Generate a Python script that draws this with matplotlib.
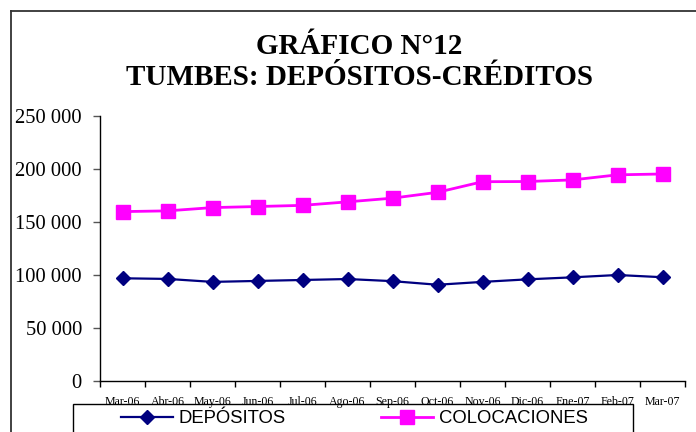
import matplotlib
matplotlib.use("Agg")
import matplotlib.pyplot as plt
from matplotlib.lines import Line2D
from matplotlib.patches import Rectangle
from matplotlib.ticker import FuncFormatter, FixedLocator

# Data
meses = ['Mar-06', 'Abr-06', 'May-06', 'Jun-06', 'Jul-06', 'Ago-06', 'Sep-06',
         'Oct-06', 'Nov-06', 'Dic-06', 'Ene-07', 'Feb-07', 'Mar-07']
depositos = [96900, 96300, 93500, 94400, 95300, 96200, 94200,
             90800, 93500, 95900, 97800, 100000, 97900]
colocaciones = [159800, 160500, 163600, 164600, 165700, 169000, 172500,
                178000, 188000, 188200, 189700, 194500, 195300]

W, H = 696, 432
fig = plt.figure(figsize=(W / 100, H / 100), dpi=100)
ax = fig.add_axes([100 / W, 1 - 381 / H, 585 / W, 265 / H])

x = list(range(len(meses)))
ax.plot(x, depositos, color='#000080', lw=1.6, marker='D', ms=7.5,
        label='DEPÓSITOS')
ax.plot(x, colocaciones, color='#FF00FF', lw=2.0, marker='s', ms=10.5,
        label='COLOCACIONES')

ax.set_xlim(-0.5, len(meses) - 0.5)
ax.set_ylim(0, 250000)
ax.set_yticks(range(0, 250001, 50000))
ax.yaxis.set_major_formatter(FuncFormatter(lambda v, p: f"{v:,.0f}".replace(",", " ")))

# category labels centred, tick marks between categories
ax.set_xticks(x)
ax.set_xticklabels(meses, fontsize=8.6, family='Liberation Serif')
ax.xaxis.set_minor_locator(FixedLocator([i - 0.5 for i in range(len(meses) + 1)]))
ax.tick_params(axis='x', which='major', length=0, pad=11)
ax.tick_params(axis='x', which='minor', length=4, width=1, color='black', direction='out')
ax.tick_params(axis='y', length=5, width=1, color='#555555', pad=8,
               labelsize=14.8)
for lab in ax.get_yticklabels():
    lab.set_family('Liberation Serif')

ax.spines['top'].set_visible(False)
ax.spines['right'].set_visible(False)
ax.spines['left'].set_linewidth(1)
ax.spines['bottom'].set_linewidth(1)

# title
fig.text(359 / W, 1 - 62 / H, 'GRÁFICO N°12\nTUMBES: DEPÓSITOS-CRÉDITOS',
         ha='center', va='center', fontsize=21, fontweight='bold',
         family='Liberation Serif', linespacing=1.2)

# outer frame (cut off at right and bottom)
fig.add_artist(Line2D([11 / W, 1.0], [1 - 11 / H, 1 - 11 / H], color='#333333', lw=1.3))
fig.add_artist(Line2D([11 / W, 11 / W], [0, 1 - 11 / H], color='#333333', lw=1.3))

# legend box (cut off at bottom)
fig.add_artist(Rectangle((72.7 / W, -0.1), 560 / W, 0.1 + (432 - 404.3) / H,
                         transform=fig.transFigure, fill=False,
                         edgecolor='black', lw=1))
fig.legend(loc='center left', bbox_to_anchor=(121 / W, 1 - 418.5 / H),
           ncol=2, frameon=False, borderpad=0, borderaxespad=0,
           handlelength=2.8, handletextpad=0.3, columnspacing=5.2,
           prop={'family': 'Liberation Sans', 'size': 13.3})

plt.savefig('out.png', dpi=100)
